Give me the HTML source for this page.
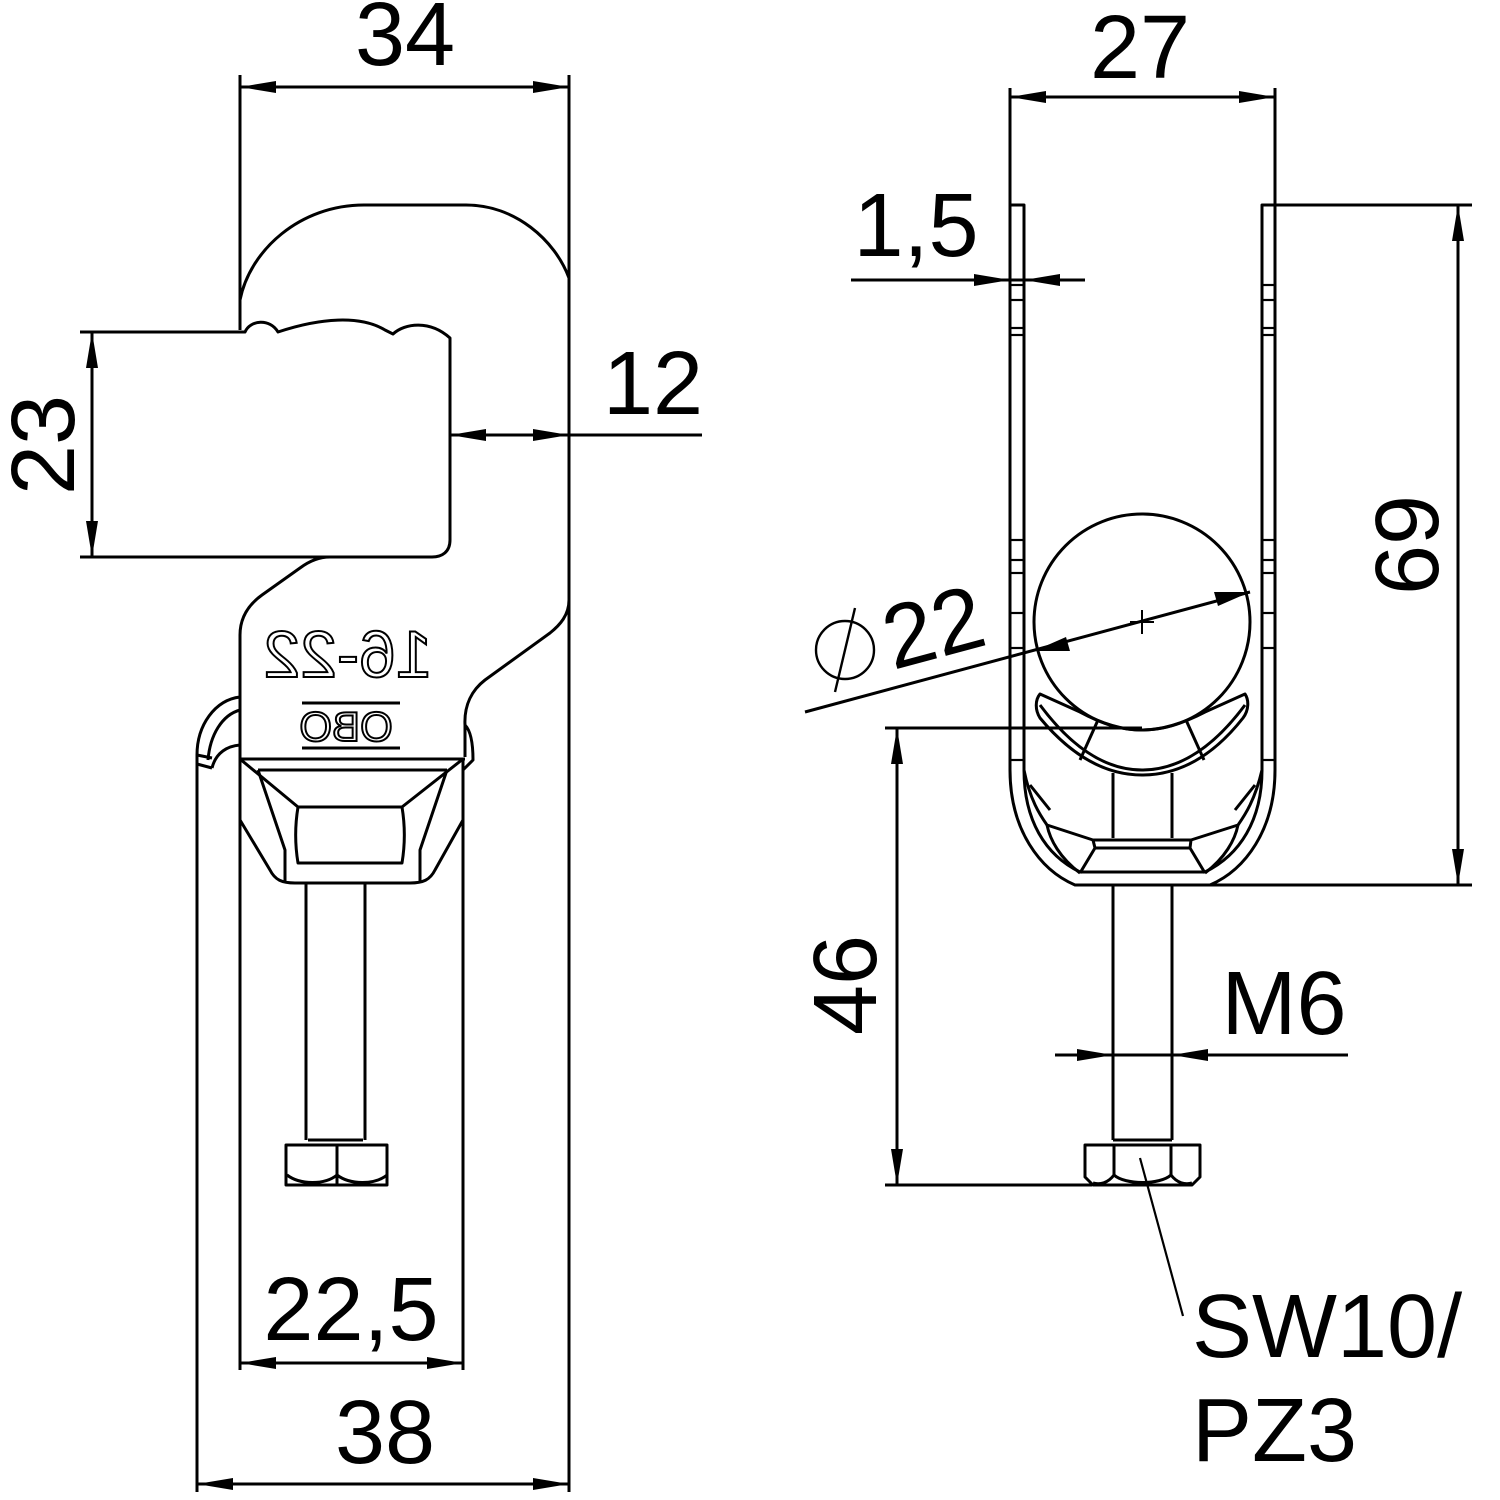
<!DOCTYPE html>
<html><head><meta charset="utf-8"><style>
html,body{margin:0;padding:0;background:#fff;}
svg{display:block;}
text{font-family:"Liberation Sans",Arial,sans-serif;fill:#000;}
</style></head><body>
<svg width="1500" height="1500" viewBox="0 0 1500 1500" xmlns="http://www.w3.org/2000/svg">
<g fill="none" stroke="#000" stroke-width="3" stroke-linejoin="round">
<line x1="240" y1="75" x2="240" y2="330"/>
<line x1="569" y1="75" x2="569" y2="1492"/>
<line x1="197" y1="755" x2="197" y2="1492"/>
<line x1="240" y1="640" x2="240" y2="1370"/>
<line x1="463" y1="760" x2="463" y2="1370"/>
<line x1="240" y1="87" x2="569" y2="87"/>
<path d="M240,320 V300 C250,250 300,205 364,205 H466 C515,205 555,240 569,278"/>
<path d="M80,332 H245 C250,320 270,318 278,332 C320,318 360,315 385,330 L393,334 C405,323 430,320 450,338 V540 C450,552 442,557 432,557 H80"/>
<line x1="92" y1="332" x2="92" y2="557"/>
<line x1="450" y1="435" x2="702" y2="435"/>
<path d="M330,557 C318,557 308,562 300,568 L262,595 C248,605 240,618 240,635 V760"/>
<path d="M569,600 C569,615 560,625 550,633 L485,680 C472,690 464,705 465,725 V757"/>
<path d="M240,697 C215,700 197,725 197,755"/>
<path d="M240,710 C222,715 210,735 208,760"/>
<path d="M240,745 C228,746 216,752 212,768"/>
<line x1="197" y1="755" x2="212" y2="758"/>
<line x1="197" y1="764" x2="212" y2="768"/>
<path d="M465,725 C470,730 473,740 473,760 L463,770"/>
<line x1="302" y1="703" x2="400" y2="703"/>
<line x1="302" y1="748" x2="400" y2="748"/>
<line x1="240" y1="759" x2="465" y2="759"/>
<line x1="258" y1="770" x2="447" y2="770"/>
<path d="M240,759 L298,807 H402 L463,759"/>
<path d="M298,807 C295,825 295,845 298,863 H402 C405,845 405,825 402,807"/>
<path d="M258,770 L285,850 L285,883"/>
<path d="M447,770 L420,850 L420,883"/>
<path d="M240,820 L270,870 C275,880 282,883 295,883 H410 C423,883 430,880 435,870 L463,820"/>
<line x1="306" y1="883" x2="306" y2="1140"/>
<line x1="365" y1="883" x2="365" y2="1140"/>
<line x1="308" y1="1140" x2="363" y2="1140"/>
<rect x="286" y="1145" width="101" height="40"/>
<line x1="337" y1="1145" x2="337" y2="1185"/>
<path d="M287,1175 C300,1185 325,1185 337,1175 C350,1185 375,1185 387,1175"/>
<line x1="240" y1="1363" x2="463" y2="1363"/>
<line x1="197" y1="1484" x2="569" y2="1484"/>

<line x1="1010" y1="88" x2="1010" y2="205"/>
<line x1="1275" y1="88" x2="1275" y2="205"/>
<line x1="1010" y1="97" x2="1275" y2="97"/>
<path d="M1010,205 V770 C1010,830 1040,870 1075,885 H1210 C1245,870 1275,830 1275,770 V205 H1262 V770 C1262,820 1240,855 1205,872 H1080 C1045,855 1024,820 1024,770 V205 Z"/>
<g stroke-width="2.2">
<line x1="1010" y1="285" x2="1024" y2="285"/><line x1="1010" y1="300" x2="1024" y2="300"/>
<line x1="1010" y1="328" x2="1024" y2="328"/><line x1="1010" y1="335" x2="1024" y2="335"/>
<line x1="1010" y1="540" x2="1024" y2="540"/><line x1="1010" y1="560" x2="1024" y2="560"/>
<line x1="1010" y1="573" x2="1024" y2="573"/><line x1="1010" y1="613" x2="1024" y2="613"/>
<line x1="1010" y1="648" x2="1024" y2="648"/><line x1="1010" y1="760" x2="1024" y2="760"/>
<line x1="1262" y1="285" x2="1275" y2="285"/><line x1="1262" y1="300" x2="1275" y2="300"/>
<line x1="1262" y1="328" x2="1275" y2="328"/><line x1="1262" y1="335" x2="1275" y2="335"/>
<line x1="1262" y1="540" x2="1275" y2="540"/><line x1="1262" y1="560" x2="1275" y2="560"/>
<line x1="1262" y1="573" x2="1275" y2="573"/><line x1="1262" y1="613" x2="1275" y2="613"/>
<line x1="1262" y1="648" x2="1275" y2="648"/><line x1="1262" y1="760" x2="1275" y2="760"/>
</g>
<line x1="1275" y1="205" x2="1472" y2="205"/>
<line x1="1210" y1="885" x2="1472" y2="885"/>
<line x1="1458" y1="205" x2="1458" y2="885"/>
<line x1="851" y1="280" x2="1085" y2="280"/>
<circle cx="1142" cy="622" r="108"/>
<line x1="1142" y1="610" x2="1142" y2="634" stroke-width="2"/>
<line x1="1130" y1="622" x2="1154" y2="622" stroke-width="2"/>
<line x1="805" y1="712" x2="1250" y2="592"/>
<circle cx="845" cy="650" r="29" stroke-width="2.4"/>
<line x1="855" y1="608" x2="835" y2="692" stroke-width="2.4"/>
<path d="M1040,694 C1035,700 1035,710 1040,718 C1075,760 1110,775 1142,775 C1175,775 1210,760 1243,718 C1249,710 1249,700 1245,694 L1205,712 C1180,725 1160,730 1142,730 C1124,730 1104,725 1080,712 Z"/>
<path d="M1040,705 C1075,752 1110,770 1142,770 C1175,770 1210,752 1245,705"/>
<line x1="1098" y1="720" x2="1080" y2="760"/>
<line x1="1186" y1="720" x2="1204" y2="760"/>
<line x1="1113" y1="773" x2="1113" y2="838"/>
<line x1="1172" y1="773" x2="1172" y2="838"/>
<path d="M1024,770 C1030,800 1040,815 1047,825 L1093,840 H1191 L1238,825 C1245,815 1255,800 1262,770"/>
<path d="M1093,840 L1095,848 H1190 L1191,840"/>
<path d="M1095,848 L1080,873 M1190,848 L1205,873"/>
<path d="M1047,825 C1050,840 1060,858 1080,873 M1238,825 C1235,840 1225,858 1205,873"/>
<path d="M1030,785 L1050,810 M1255,785 L1235,810"/>
<line x1="885" y1="728" x2="1142" y2="728"/>
<line x1="885" y1="1185" x2="1092" y2="1185"/>
<line x1="897" y1="728" x2="897" y2="1185"/>
<line x1="1113" y1="885" x2="1113" y2="1140"/>
<line x1="1172" y1="885" x2="1172" y2="1140"/>
<line x1="1113" y1="1140" x2="1172" y2="1140"/>
<path d="M1085,1145 H1200 V1177 L1192,1185 H1093 L1085,1177 Z"/>
<line x1="1114" y1="1145" x2="1114" y2="1175"/>
<line x1="1171" y1="1145" x2="1171" y2="1175"/>
<path d="M1093,1183 C1100,1185 1108,1183 1114,1175 C1125,1185 1160,1185 1171,1175 C1177,1183 1185,1185 1192,1183"/>
<line x1="1055" y1="1055" x2="1348" y2="1055"/>
<line x1="1140" y1="1158" x2="1183" y2="1316" stroke-width="2.2"/>
</g>

<g fill="#000" stroke="none">
<polygon points="240,87 276,81 276,93"/><polygon points="569,87 533,81 533,93"/>
<polygon points="92,332 86,368 98,368"/><polygon points="92,557 86,521 98,521"/>
<polygon points="450,435 486,429 486,441"/><polygon points="569,435 533,429 533,441"/>
<polygon points="240,1363 276,1357 276,1369"/><polygon points="463,1363 427,1357 427,1369"/>
<polygon points="197,1484 233,1478 233,1490"/><polygon points="569,1484 533,1478 533,1490"/>
<polygon points="1010,97 1046,91 1046,103"/><polygon points="1275,97 1239,91 1239,103"/>
<polygon points="1010,280 974,274 974,286"/><polygon points="1024,280 1060,274 1060,286"/>
<polygon points="1458,205 1452,241 1464,241"/><polygon points="1458,885 1452,849 1464,849"/>
<polygon points="897,728 891,764 903,764"/><polygon points="897,1185 891,1149 903,1149"/>
<polygon points="1113,1055 1077,1049 1077,1061"/><polygon points="1172,1055 1208,1049 1208,1061"/>
<polygon points="1250,592 1214,592 1218,606"/><polygon points="1034,651 1070,651 1066,637"/>
</g>

<g font-size="90">
<text x="405" y="65" text-anchor="middle">34</text>
<text x="653" y="414" text-anchor="middle">12</text>
<text transform="translate(74,445) rotate(-90)" text-anchor="middle">23</text>
<text x="351" y="1340" text-anchor="middle">22,5</text>
<text x="385" y="1463" text-anchor="middle">38</text>
<text x="1140" y="78" text-anchor="middle">27</text>
<text x="916" y="256" text-anchor="middle">1,5</text>
<text transform="translate(1438,545) rotate(-90)" text-anchor="middle">69</text>
<text transform="translate(876,985) rotate(-90)" text-anchor="middle">46</text>
<text x="1284" y="1034" text-anchor="middle">M6</text>
<text transform="translate(893,670) rotate(-15)">22</text>
<text x="1192" y="1357">SW10/</text>
<text x="1192" y="1461">PZ3</text>
</g>
<g transform="translate(696,0) scale(-1,1)">
<text x="348" y="677" font-size="66" text-anchor="middle" stroke="#000" stroke-width="2" style="fill:none">16-22</text>
<text x="350" y="741" font-size="42" text-anchor="middle" stroke="#000" stroke-width="2" style="fill:none">OBO</text>
</g>
</svg>
</body></html>
